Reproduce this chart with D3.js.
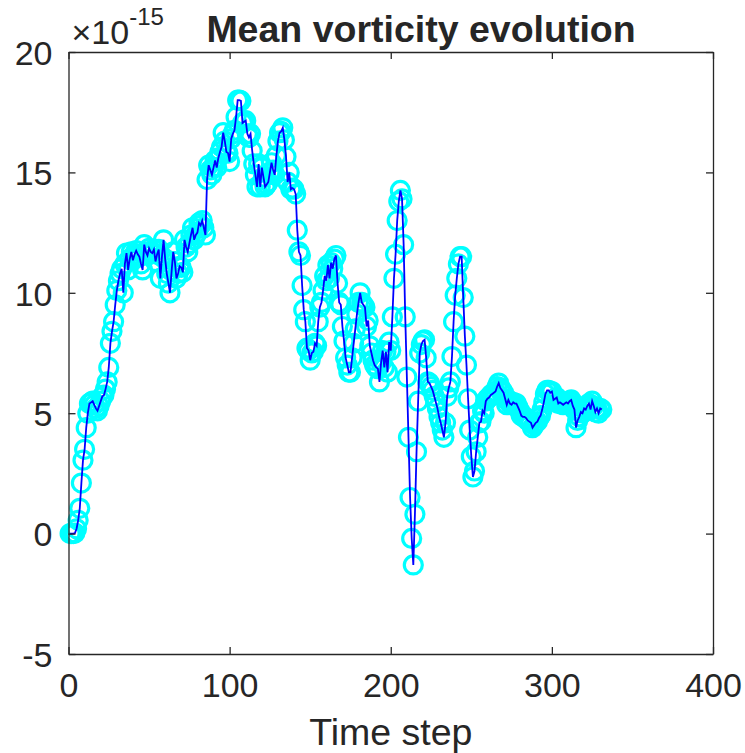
<!DOCTYPE html>
<html>
<head>
<meta charset="utf-8">
<script src="https://cdn.jsdelivr.net/npm/d3@7"></script>
<style>
  body { margin: 0; background: #fff; }
  text { font-family: "Liberation Sans", Arial, Helvetica, sans-serif; fill: #262626; }
</style>
</head>
<body>
<div class="content"></div>
<script>
// mean vorticity per time step, in units of 1e-15 (steps 1..331)
var vorticity = [
  0, 0, 0, 0.02, 0.2, 0.55, 1.05, 2.1, 3.05, 3.5,
  4.4, 5.0, 5.4, 5.45, 5.5, 5.35, 5.2, 5.1, 5.3, 5.5,
  5.7, 5.75, 6.0, 6.3, 6.9, 7.9, 8.4, 8.8, 9.5, 10.1,
  10.5, 10.8, 11.0, 10.0, 11.2, 11.65, 10.95, 11.4, 11.7, 11.35,
  11.6, 11.75, 11.6, 11.5, 11.2, 10.95, 12.0, 11.7, 11.55, 11.85,
  11.7, 11.65, 11.8, 11.3, 11.6, 11.8, 10.6, 11.5, 12.2, 11.4,
  10.8, 10.4, 10.0, 10.9, 11.7, 11.3, 10.6, 10.8, 11.1, 11.05,
  10.85, 12.2, 11.9, 11.7, 12.05, 12.4, 12.7, 12.2, 12.4, 12.5,
  12.9, 12.8, 13.0, 12.7, 12.4, 14.7, 15.3, 15.1, 14.9, 15.2,
  15.5, 15.2, 15.6, 15.85, 16.05, 16.65, 16.3, 15.85, 15.8, 15.45,
  16.4, 16.6, 16.75, 17.3, 18.0, 18.0, 17.97, 17.05, 17.1, 17.15,
  16.6, 16.45, 16.6, 15.9, 15.35, 14.9, 14.4, 15.35, 14.4, 15.2,
  14.8, 14.4, 14.5, 14.6, 15.0, 15.4, 15.1, 14.9, 15.7, 16.3,
  16.65, 16.7, 16.85, 16.35, 15.65, 14.6, 15.0, 14.3, 14.35, 14.3,
  14.1, 12.6, 11.7, 11.55, 10.3, 9.3, 8.8, 7.7, 7.6, 7.2,
  7.5, 7.55, 7.9, 7.8, 8.8, 9.4, 9.6, 10.1, 10.7, 10.5,
  11.15, 10.6, 11.25, 11.0, 11.4, 11.55, 10.4, 9.6, 9.5, 8.6,
  8.0, 7.3, 7.0, 6.7, 6.7, 7.3, 7.9, 8.5, 9.1, 9.6,
  10.0, 9.6, 9.5, 9.4, 8.6, 8.85, 7.8, 7.5, 7.2, 7.0,
  6.9, 6.85, 6.3, 7.1, 7.6, 6.9, 7.55, 6.7, 7.95, 7.6,
  9.0, 10.6, 11.6, 13.0, 13.8, 14.25, 13.9, 12.0, 9.0, 6.5,
  4.0, 1.5, -0.2, -1.3, 0.8, 3.4, 5.5, 7.5, 7.85, 8.0,
  8.05, 7.3, 6.3, 6.25, 6.1, 5.95, 5.7, 5.45, 5.2, 4.85,
  4.6, 4.3, 4.0, 4.6, 5.7, 6.05, 6.3, 7.35, 8.8, 9.9,
  10.6, 11.2, 11.5, 11.5, 9.8, 8.2, 7.0, 5.6, 4.3, 3.2,
  2.35, 2.6, 3.4, 4.0, 4.6, 4.65, 5.1, 5.0, 5.5, 5.6,
  5.65, 5.75, 5.8, 5.85, 5.9, 6.1, 6.25, 6.05, 5.95, 5.85,
  5.6, 5.35, 5.55, 5.4, 5.35, 5.45, 5.4, 5.4, 5.25, 5.1,
  4.9, 4.85, 4.85, 4.8, 4.7, 4.65, 4.6, 4.4, 4.5, 4.6,
  4.65, 4.8, 4.9, 5.15, 5.45, 5.8, 5.95, 5.95, 5.85, 5.9,
  5.55, 5.6, 5.65, 5.4, 5.45, 5.4, 5.35, 5.4, 5.45, 5.4,
  5.5, 5.55, 5.3, 5.15, 4.4, 4.7, 4.85, 5.05, 5.0, 5.2,
  5.15, 5.3, 5.4, 5.15, 5.5, 5.3, 5.05, 5.2, 5.0, 5.2,
  5.15
];
var xTicks = [0, 100, 200, 300, 400];
var yTicks = [-5, 0, 5, 10, 15, 20];

var W = 745, H = 753;
var plotL = 68.5, plotR = 713, plotT = 52, plotB = 654;

var data = vorticity.map(function(v, i) { return [i + 1, v]; });

var x = d3.scaleLinear().domain([0, 400]).range([plotL, plotR]);
var y = d3.scaleLinear().domain([-5, 20]).range([plotB, plotT]);

var svg = d3.select(".content")
  .append("svg")
  .attr("width", W)
  .attr("height", H)

// markers first, the line goes over them
svg.append("g").selectAll("circle")
  .data(data)
  .enter()
  .append("circle")
  .attr("cx", function(d) { return x(d[0]); })
  .attr("cy", function(d) { return y(d[1]); })
  .attr("r", 9)
  .attr("fill", "none")
  .attr("stroke", "#00ffff")
  .attr("stroke-width", 3.2)

svg.append("path")
  .datum(data)
  .attr("fill", "none")
  .attr("stroke", "#0000ff")
  .attr("stroke-width", 1.8)
  .attr("d", d3.line().x(function(d) { return x(d[0]); }).y(function(d) { return y(d[1]); }))

// box with inward ticks on all four sides
var axisColor = "#262626";
function styleAxis(g) {
  g.select(".domain").attr("stroke", axisColor).attr("stroke-width", 1.3);
  g.selectAll(".tick line").attr("stroke", axisColor).attr("stroke-width", 1.3);
}
// plain hyphen for negatives, like the original
var plain = function(d) { return String(d); };

svg.append("g")
  .attr("transform", "translate(0," + plotB + ")")
  .call(d3.axisBottom(x).tickValues(xTicks).tickSizeInner(-7).tickSizeOuter(0).tickPadding(14).tickFormat(plain))
  .call(styleAxis)
  .selectAll("text").style("font-size", "34px").attr("fill", axisColor)
  .attr("dy", "0.85em")

svg.append("g")
  .attr("transform", "translate(0," + plotT + ")")
  .call(d3.axisTop(x).tickValues(xTicks).tickSizeInner(-7).tickSizeOuter(0).tickFormat(""))
  .call(styleAxis)

svg.append("g")
  .attr("transform", "translate(" + plotL + ",0)")
  .call(d3.axisLeft(y).tickValues(yTicks).tickSizeInner(-7).tickSizeOuter(0).tickPadding(16).tickFormat(plain))
  .call(styleAxis)
  .selectAll("text").style("font-size", "34px").attr("fill", axisColor)
  .attr("dy", "0.36em")

svg.append("g")
  .attr("transform", "translate(" + plotR + ",0)")
  .call(d3.axisRight(y).tickValues(yTicks).tickSizeInner(-7).tickSizeOuter(0).tickFormat(""))
  .call(styleAxis)

// exponent label
var expo = svg.append("text")
  .attr("x", plotL + 3)
  .attr("y", plotT - 8)
  .style("font-size", "34px")
expo.append("tspan").text("\u00d710")
expo.append("tspan").text("-15").attr("dy", -19).style("font-size", "24px")

svg.append("text")
  .attr("x", 421)
  .attr("y", 42)
  .attr("text-anchor", "middle")
  .style("font-size", "37.5px")
  .style("font-weight", "bold")
  .attr("fill", "#000")
  .text("Mean vorticity evolution")

svg.append("text")
  .attr("x", (plotL + plotR) / 2)
  .attr("y", 745)
  .attr("text-anchor", "middle")
  .style("font-size", "37.5px")
  .text("Time step")
</script>
</body>
</html>
